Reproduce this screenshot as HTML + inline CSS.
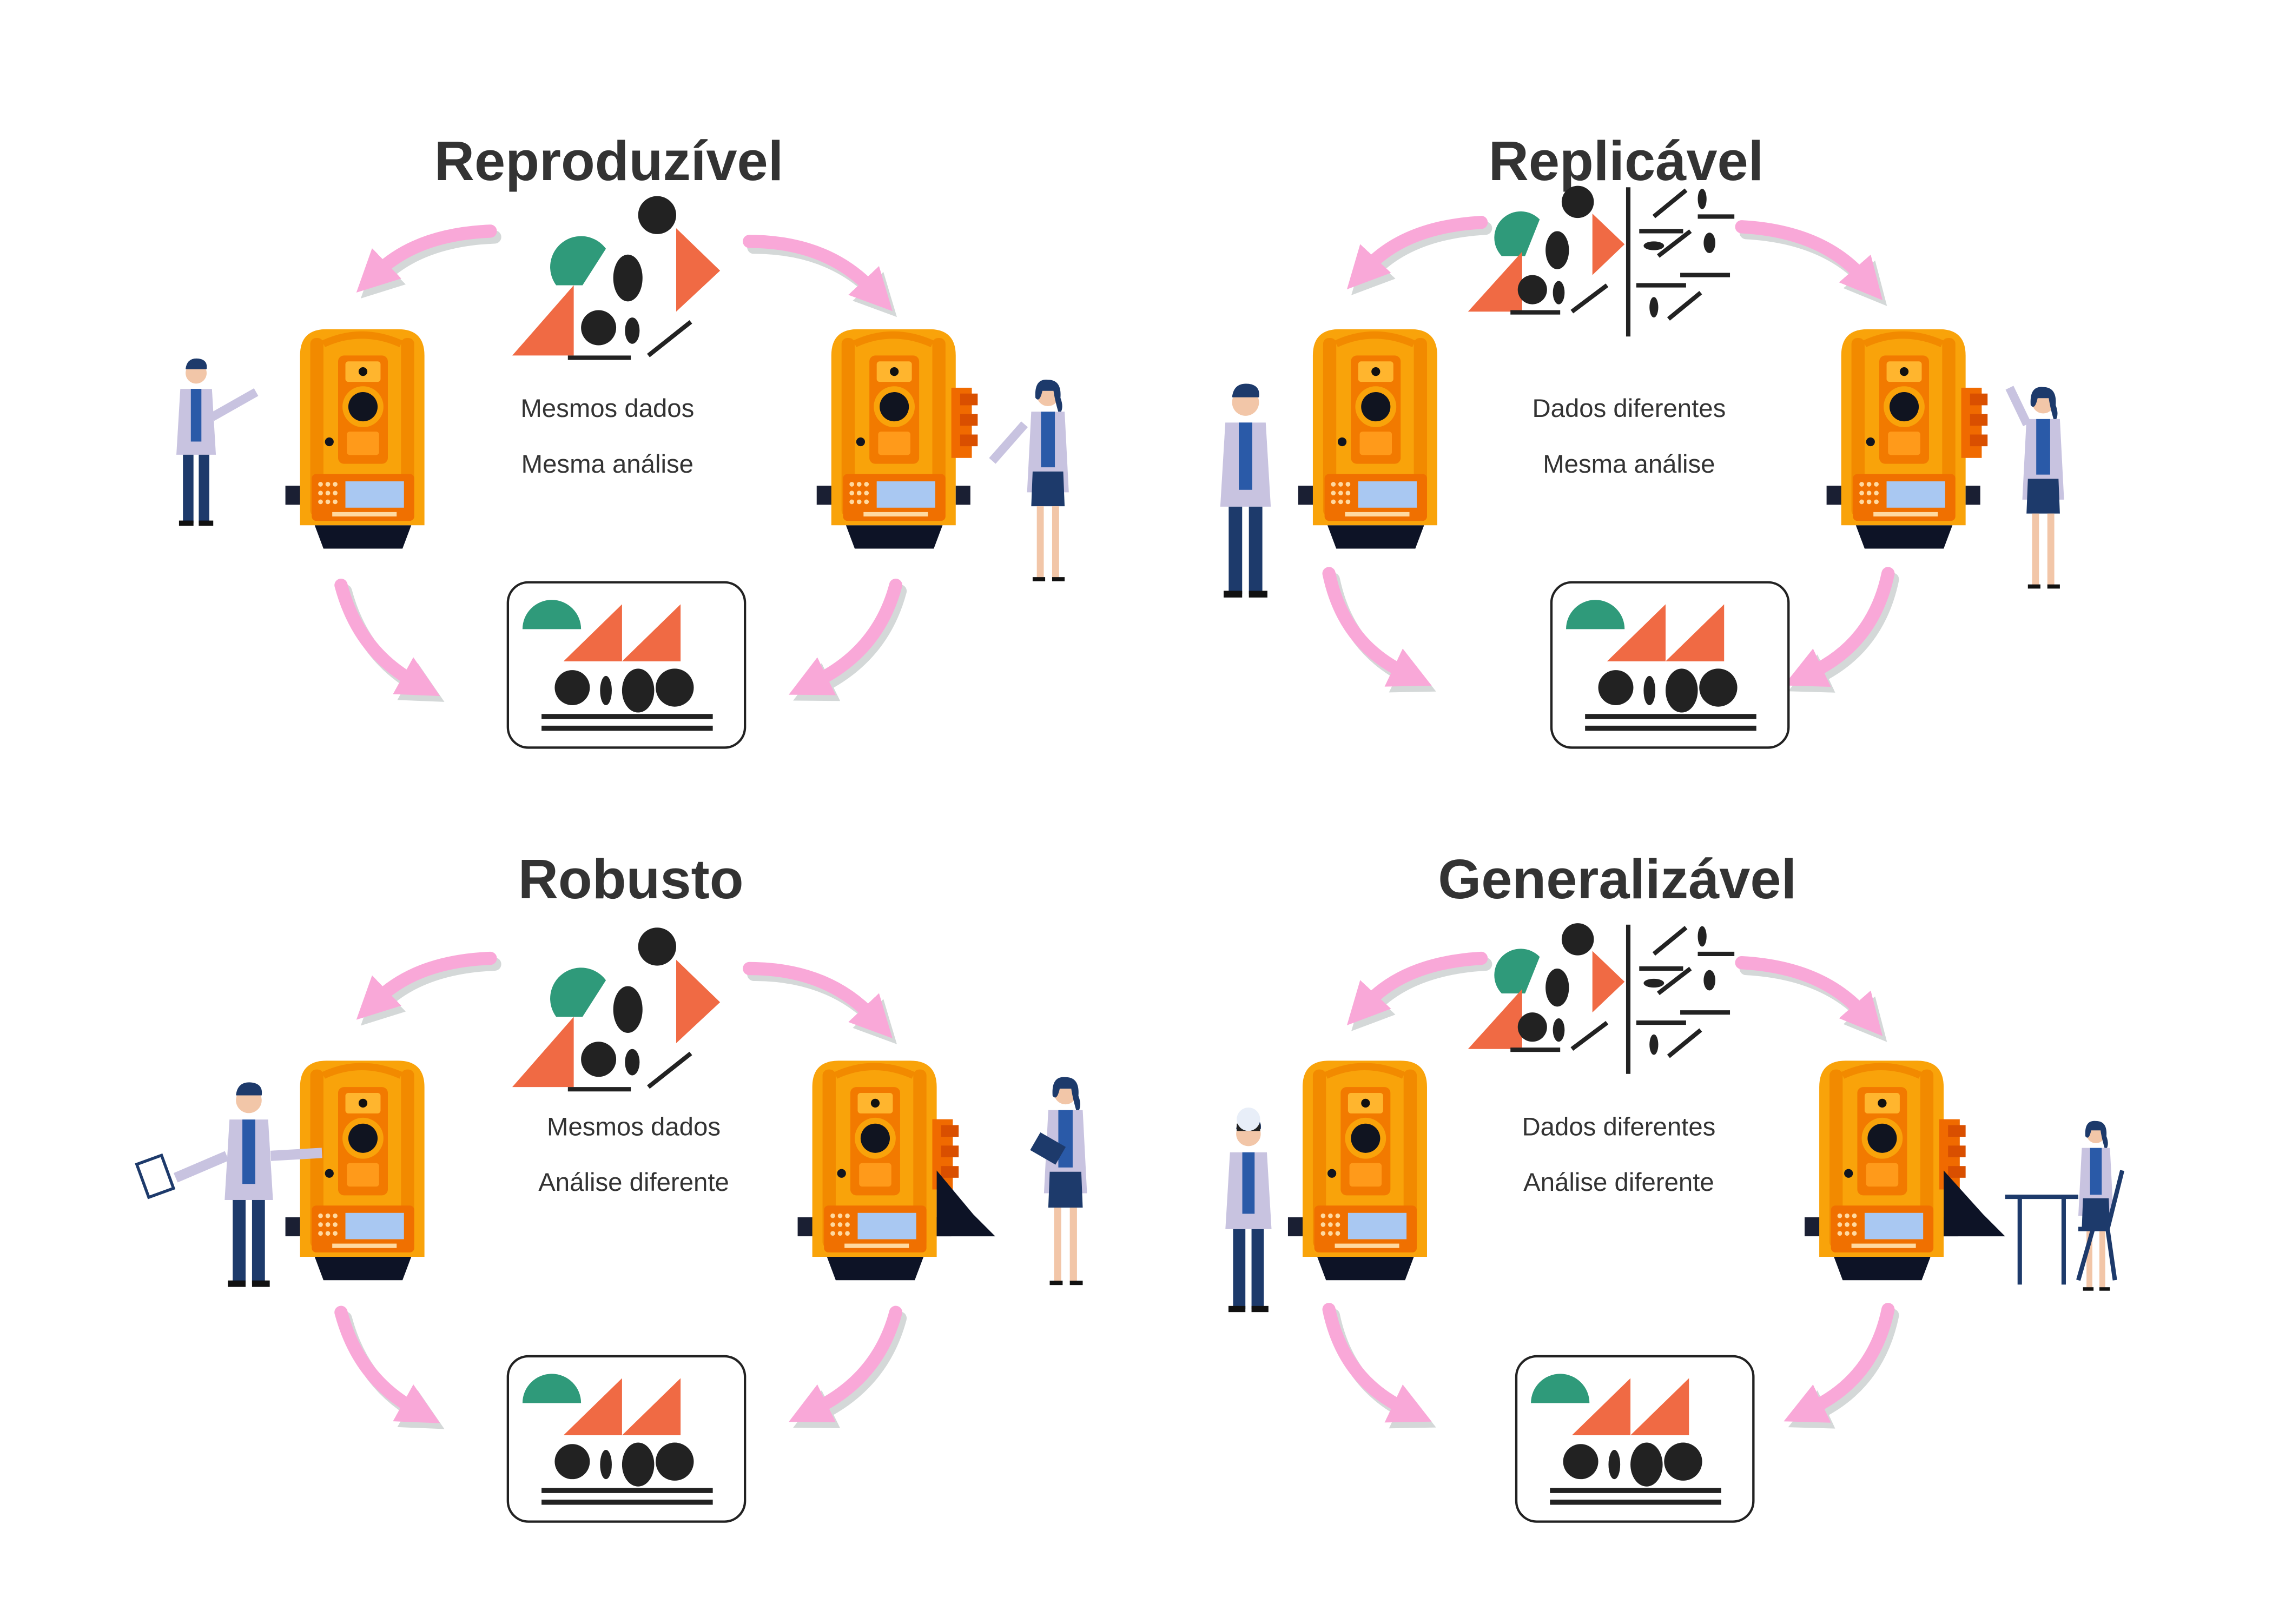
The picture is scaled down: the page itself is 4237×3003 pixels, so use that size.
<!DOCTYPE html>
<html><head><meta charset="utf-8"><style>
html,body{margin:0;padding:0;background:#fff;}
svg{display:block;}
text{font-family:"Liberation Sans",Arial,sans-serif;}
</style></head><body>
<svg width="4237" height="3003" viewBox="0 0 1566 1110" preserveAspectRatio="none" xmlns="http://www.w3.org/2000/svg">
<defs>
<marker id="mp" viewBox="0 0 10 10" refX="3" refY="5" markerWidth="3.2" markerHeight="3.2" orient="auto"><path d="M0,0 L10,5 L0,10 z" fill="#f9a8d8"/></marker>
<marker id="mg" viewBox="0 0 10 10" refX="3" refY="5" markerWidth="3.2" markerHeight="3.2" orient="auto"><path d="M0,0 L10,5 L0,10 z" fill="#d4d8d8"/></marker>
<g id="st">
 <rect x="-10" y="107" width="12" height="13" fill="#1a1f33"/>
 <polygon points="10,134 76,134 70,150 16,150" fill="#0d1326"/>
 <path d="M0,18 Q0,0 18,0 L67,0 Q85,0 85,18 L85,134 L0,134 z" fill="#f9a30a"/>
 <rect x="7" y="6" width="9" height="122" rx="4" fill="#f28a00"/>
 <rect x="69" y="6" width="9" height="122" rx="4" fill="#f28a00"/>
 <path d="M16,10 Q42,-2 69,10" stroke="#f28a00" stroke-width="5" fill="none"/>
 <rect x="26" y="18" width="34" height="74" rx="4" fill="#f27a00"/>
 <rect x="31" y="22" width="24" height="14" rx="2" fill="#ffb52e"/>
 <circle cx="43" cy="29" r="3" fill="#111"/>
 <circle cx="43" cy="53" r="14" fill="#f9a30a"/>
 <circle cx="43" cy="53" r="10" fill="#101420"/>
 <rect x="32" y="70" width="22" height="16" rx="2" fill="#ff9a1a"/>
 <circle cx="20" cy="77" r="3" fill="#101420"/>
 <rect x="8" y="99" width="70" height="32" rx="3" fill="#f07000"/>
 <rect x="31" y="104" width="40" height="18" fill="#a9c8f2"/>
 <g fill="#ffd9a0"><circle cx="14" cy="106" r="1.6"/><circle cx="19" cy="106" r="1.6"/><circle cx="24" cy="106" r="1.6"/><circle cx="14" cy="112" r="1.6"/><circle cx="19" cy="112" r="1.6"/><circle cx="24" cy="112" r="1.6"/><circle cx="14" cy="118" r="1.6"/><circle cx="19" cy="118" r="1.6"/><circle cx="24" cy="118" r="1.6"/></g>
 <rect x="22" y="125" width="44" height="3" fill="#ffd9a0"/>
</g>
<g id="side">
 <rect x="82" y="40" width="14" height="48" fill="#f06a00"/>
 <rect x="88" y="44" width="12" height="8" fill="#d94f00"/>
 <rect x="88" y="58" width="12" height="8" fill="#d94f00"/>
 <rect x="88" y="72" width="12" height="8" fill="#d94f00"/>
 <rect x="85" y="107" width="10" height="13" fill="#1a1f33"/>
</g>
<g id="box">
 <rect x="0" y="0" width="162" height="113" rx="14" fill="#fff" stroke="#222" stroke-width="1.6"/>
 <path d="M10,32 A20,20 0 0 1 50,32 z" fill="#2f9a7a"/>
 <polygon points="38,54 78,54 78,15" fill="#f06a44"/>
 <polygon points="78,54 118,54 118,15" fill="#f06a44"/>
 <circle cx="44" cy="72" r="12" fill="#222"/>
 <ellipse cx="67" cy="74" rx="4" ry="10" fill="#222"/>
 <ellipse cx="89" cy="74" rx="11" ry="15" fill="#222"/>
 <circle cx="114" cy="72" r="13" fill="#222"/>
 <rect x="23" y="90" width="117" height="3.5" fill="#222"/>
 <rect x="23" y="98" width="117" height="3.5" fill="#222"/>
</g>
<g id="cl1">
 <circle cx="449" cy="147" r="13" fill="#222"/>
 <path d="M380,195 A20,20 0 0 1 414,170 L398,195 z" fill="#2f9a7a"/>
 <polygon points="462,156 492,185 462,213" fill="#f06a44"/>
 <polygon points="350,243 392,243 392,195" fill="#f06a44"/>
 <ellipse cx="429" cy="190" rx="10" ry="16" fill="#222"/>
 <circle cx="409" cy="224" r="12" fill="#222"/>
 <ellipse cx="432" cy="226" rx="5" ry="9" fill="#222"/>
 <rect x="388" y="243" width="43" height="3" fill="#222"/>
 <line x1="443" y1="243" x2="472" y2="220" stroke="#222" stroke-width="3"/>
</g>
<g id="cl2">
 <circle cx="1078" cy="138" r="11" fill="#222"/>
 <path d="M1026,175 A18,18 0 0 1 1052,150 L1042,175 z" fill="#2f9a7a"/>
 <polygon points="1088,146 1110,167 1088,188" fill="#f06a44"/>
 <polygon points="1003,213 1040,213 1040,172" fill="#f06a44"/>
 <ellipse cx="1064" cy="171" rx="8" ry="13" fill="#222"/>
 <circle cx="1047" cy="198" r="10" fill="#222"/>
 <ellipse cx="1065" cy="200" rx="4" ry="8" fill="#222"/>
 <rect x="1032" y="212" width="34" height="3" fill="#222"/>
 <line x1="1074" y1="213" x2="1098" y2="195" stroke="#222" stroke-width="3"/>
 <rect x="1111" y="128" width="3" height="102" fill="#222"/>
 <g stroke="#222" stroke-width="3">
 <line x1="1130" y1="148" x2="1152" y2="130"/><line x1="1120" y1="158" x2="1150" y2="158"/>
 <line x1="1160" y1="148" x2="1185" y2="148"/><line x1="1133" y1="175" x2="1155" y2="158"/>
 <line x1="1148" y1="188" x2="1182" y2="188"/><line x1="1118" y1="195" x2="1152" y2="195"/>
 <line x1="1140" y1="218" x2="1162" y2="200"/></g>
 <ellipse cx="1163" cy="136" rx="3" ry="7" fill="#222"/>
 <ellipse cx="1130" cy="168" rx="7" ry="3" fill="#222"/>
 <ellipse cx="1168" cy="166" rx="4" ry="7" fill="#222"/>
 <ellipse cx="1130" cy="210" rx="3" ry="7" fill="#222"/>
</g>
<g id="man">
 <circle cx="0" cy="0" r="8" fill="#f2c6a8"/>
 <path d="M-8,-3 Q-7,-12 2,-11 Q9,-10 8,-3 z" fill="#1d3a6b"/>
 <path d="M-12,12 L12,12 L15,62 L-15,62 z" fill="#c8c3e0"/>
 <rect x="-4" y="12" width="8" height="40" fill="#2a5aa8"/>
 <rect x="-10" y="62" width="8" height="52" fill="#1d3a6b"/>
 <rect x="2" y="62" width="8" height="52" fill="#1d3a6b"/>
 <rect x="-13" y="112" width="11" height="4" fill="#111"/>
 <rect x="2" y="112" width="11" height="4" fill="#111"/>
</g>
<g id="woman">
 <circle cx="0" cy="0" r="8" fill="#f2c6a8"/>
 <path d="M-9,2 Q-10,-12 0,-11 Q10,-11 9,2 Q12,10 8,14 Q5,4 4,-3 L-4,-3 Q-6,6 -9,2 z" fill="#1d3a6b"/>
 <path d="M-12,12 L12,12 L15,70 L-15,70 z" fill="#c8c3e0"/>
 <rect x="-5" y="12" width="10" height="40" fill="#2a5aa8"/>
 <path d="M-11,55 L11,55 L12,80 L-12,80 z" fill="#1d3a6b"/>
 <rect x="-8" y="80" width="5" height="52" fill="#f2c6a8"/>
 <rect x="3" y="80" width="5" height="52" fill="#f2c6a8"/>
 <rect x="-11" y="131" width="9" height="3" fill="#111"/>
 <rect x="3" y="131" width="9" height="3" fill="#111"/>
</g>
</defs>

<g font-weight="bold" font-size="38" fill="#333" text-anchor="middle">
<text x="416" y="123">Reproduzível</text>
<text x="1111" y="123">Replicável</text>
<text x="431" y="614">Robusto</text>
<text x="1105" y="614">Generalizável</text>
</g>
<g font-size="17.5" fill="#333" text-anchor="middle">
<text x="415" y="285">Mesmos dados</text><text x="415" y="323">Mesma análise</text>
<text x="1113" y="285">Dados diferentes</text><text x="1113" y="323">Mesma análise</text>
<text x="433" y="776">Mesmos dados</text><text x="433" y="814">Análise diferente</text>
<text x="1106" y="776">Dados diferentes</text><text x="1106" y="814">Análise diferente</text>
</g>

<use href="#cl1"/>
<use href="#cl1" transform="translate(0,500)"/>
<use href="#cl2"/>
<use href="#cl2" transform="translate(0,504)"/>

<g fill="none" stroke-width="9" stroke-linecap="round">
<g stroke="#d4d8d8" marker-end="url(#mg)" transform="translate(3,4)">
<path d="M335,158 Q285,160 258,186"/><path d="M512,165 Q565,165 596,198"/><path d="M233,400 Q245,445 283,466"/><path d="M612,400 Q600,445 557,466"/>
<path d="M1012,152 Q960,155 934,183"/><path d="M1190,155 Q1245,158 1273,190"/><path d="M908,392 Q918,440 960,460"/><path d="M1290,392 Q1280,440 1237,460"/>
<g transform="translate(0,497)"><path d="M335,158 Q285,160 258,186"/><path d="M512,165 Q565,165 596,198"/><path d="M233,400 Q245,445 283,466"/><path d="M612,400 Q600,445 557,466"/></g>
<g transform="translate(0,503)"><path d="M1012,152 Q960,155 934,183"/><path d="M1190,155 Q1245,158 1273,190"/><path d="M908,392 Q918,440 960,460"/><path d="M1290,392 Q1280,440 1237,460"/></g>
</g>
<g stroke="#f9a8d8" marker-end="url(#mp)">
<path d="M335,158 Q285,160 258,186"/><path d="M512,165 Q565,165 596,198"/><path d="M233,400 Q245,445 283,466"/><path d="M612,400 Q600,445 557,466"/>
<path d="M1012,152 Q960,155 934,183"/><path d="M1190,155 Q1245,158 1273,190"/><path d="M908,392 Q918,440 960,460"/><path d="M1290,392 Q1280,440 1237,460"/>
<g transform="translate(0,497)"><path d="M335,158 Q285,160 258,186"/><path d="M512,165 Q565,165 596,198"/><path d="M233,400 Q245,445 283,466"/><path d="M612,400 Q600,445 557,466"/></g>
<g transform="translate(0,503)"><path d="M1012,152 Q960,155 934,183"/><path d="M1190,155 Q1245,158 1273,190"/><path d="M908,392 Q918,440 960,460"/><path d="M1290,392 Q1280,440 1237,460"/></g>
</g>
</g>

<use href="#st" transform="translate(205,225)"/>
<use href="#st" transform="translate(568,225)"/><use href="#side" transform="translate(568,225)"/>
<use href="#st" transform="translate(897,225)"/>
<use href="#st" transform="translate(1258,225)"/><use href="#side" transform="translate(1258,225)"/>
<use href="#st" transform="translate(205,725)"/>
<use href="#st" transform="translate(555,725)"/><use href="#side" transform="translate(555,725)"/>
<path d="M640,800 L665,830 L680,845 L640,845 z" fill="#0d1326"/>
<use href="#st" transform="translate(890,725)"/>
<use href="#st" transform="translate(1243,725)"/><use href="#side" transform="translate(1243,725)"/>
<path d="M1328,800 L1355,830 L1370,845 L1328,845 z" fill="#0d1326"/>

<use href="#box" transform="translate(347,398)"/>
<use href="#box" transform="translate(1060,398)"/>
<use href="#box" transform="translate(347,927)"/>
<use href="#box" transform="translate(1036,927)"/>

<use href="#man" transform="translate(134,255) scale(0.9)"/>
<line x1="145" y1="285" x2="175" y2="268" stroke="#c8c3e0" stroke-width="6"/>
<use href="#woman" transform="translate(716,270) scale(0.95)"/>
<line x1="700" y1="290" x2="678" y2="315" stroke="#c8c3e0" stroke-width="6"/>
<use href="#man" transform="translate(851,275) scale(1.15)"/>
<use href="#woman" transform="translate(1396,275) scale(0.95)"/>
<line x1="1385" y1="290" x2="1373" y2="265" stroke="#c8c3e0" stroke-width="6"/>
<use href="#man" transform="translate(170,752) scale(1.1)"/>
<rect x="97" y="792" width="18" height="24" fill="#fff" stroke="#1d3a6b" stroke-width="2" transform="rotate(-20 106 804)"/>
<line x1="155" y1="790" x2="120" y2="805" stroke="#c8c3e0" stroke-width="7"/>
<line x1="185" y1="790" x2="220" y2="788" stroke="#c8c3e0" stroke-width="7"/>
<use href="#woman" transform="translate(728,747) scale(0.98)"/>
<rect x="706" y="778" width="20" height="14" fill="#1d3a6b" transform="rotate(30 716 785)"/>
<use href="#man" transform="translate(853,775) scale(1.05)"/>
<rect x="845" y="768" width="16" height="5" fill="#222"/>
<circle cx="853" cy="765" r="8" fill="#e8eef8"/>
<use href="#woman" transform="translate(1432,775) scale(0.8)"/>
<g stroke="#1d3a6b" stroke-width="3" fill="none">
<line x1="1370" y1="818" x2="1420" y2="818"/><line x1="1380" y1="818" x2="1380" y2="878"/><line x1="1410" y1="818" x2="1410" y2="878"/>
<path d="M1450,800 L1440,840 L1420,840 M1430,840 L1420,875 M1440,840 L1445,875"/>
</g>
</svg>
</body></html>
